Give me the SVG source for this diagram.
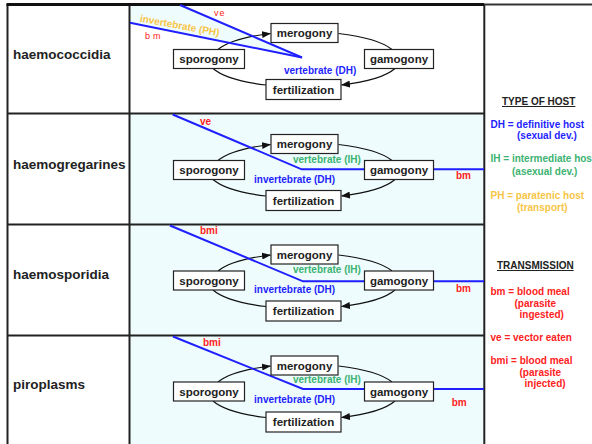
<svg xmlns="http://www.w3.org/2000/svg" width="592" height="444" viewBox="0 0 592 444">
<defs>
<marker id="ah" markerWidth="9" markerHeight="7" refX="8.5" refY="3.5" orient="auto" markerUnits="userSpaceOnUse"><path d="M0,0 L9,3.5 L0,7 z" fill="#111"/></marker>
<style>
.node rect{fill:#fff;stroke:#222;stroke-width:1.2}
.node text{font-family:"Liberation Sans",Arial,sans-serif;font-weight:bold;font-size:11.5px;fill:#222;text-anchor:middle}
.arc{fill:none;stroke:#111;stroke-width:1.2}
.host{fill:none;stroke:#1f1fff;stroke-width:2}
.lab{font-family:"Liberation Sans",Arial,sans-serif;font-weight:bold;font-size:10px}
.grp{font-family:"Liberation Sans",Arial,sans-serif;font-weight:bold;font-size:13.5px;fill:#222}
.red{fill:#ff2222}.blue{fill:#1f1fff}.green{fill:#3cb371}.gold{fill:#f7c545}.blk{fill:#222}
.grid{stroke:#222;stroke-width:2;fill:none}
</style>
</defs>
<rect x="0" y="0" width="592" height="444" fill="#fff"/>
<!-- backgrounds -->
<rect x="130" y="113.5" width="354" height="331" fill="#eefcfd"/>
<polygon points="130,5 180,5 302,57.5 130,22.7" fill="#eefcfd"/>
<!-- grid -->
<g id="grid">
<line class="grid" x1="7.5" y1="4" x2="7.5" y2="444"/>
<line class="grid" x1="129.5" y1="4" x2="129.5" y2="444"/>
<line class="grid" x1="484.3" y1="4" x2="484.3" y2="444"/>
<line x1="6.5" y1="4.5" x2="484.3" y2="4.5" stroke="#111" stroke-width="3"/>
<line x1="484.3" y1="4.5" x2="592" y2="4.5" stroke="#333" stroke-width="2"/>
<line class="grid" x1="7" y1="113.5" x2="484.3" y2="113.5"/>
<line class="grid" x1="7" y1="224.5" x2="484.3" y2="224.5"/>
<line class="grid" x1="7" y1="335.5" x2="484.3" y2="335.5"/>
</g>
<!-- group labels -->
<g id="groups">
<text class="grp" x="13" y="59">haemococcidia</text>
<text class="grp" x="13" y="169">haemogregarines</text>
<text class="grp" x="13" y="279">haemosporidia</text>
<text class="grp" x="13" y="389">piroplasms</text>
</g>
<!-- connectors -->
<g id="connectors">
<g id="cycle1">
<path class="arc" d="M218 49.5 A95 27 0 0 1 270.5 33.5" marker-end="url(#ah)"/>
<path class="arc" d="M338.5 33.5 A95 27 0 0 1 392 49.5"/>
<path class="arc" d="M395 68.5 A95 27 0 0 1 341.5 85" marker-end="url(#ah)"/>
<path class="arc" d="M266 85 A95 27 0 0 1 213 68.5"/>
</g>
<g id="cycle2" transform="translate(0,111)">
<path class="arc" d="M218 49.5 A95 27 0 0 1 270.5 33.5" marker-end="url(#ah)"/>
<path class="arc" d="M338.5 33.5 A95 27 0 0 1 392 49.5"/>
<path class="arc" d="M395 68.5 A95 27 0 0 1 341.5 85" marker-end="url(#ah)"/>
<path class="arc" d="M266 85 A95 27 0 0 1 213 68.5"/>
</g>
<g id="cycle3" transform="translate(0,221.5)">
<path class="arc" d="M218 49.5 A95 27 0 0 1 270.5 33.5" marker-end="url(#ah)"/>
<path class="arc" d="M338.5 33.5 A95 27 0 0 1 392 49.5"/>
<path class="arc" d="M395 68.5 A95 27 0 0 1 341.5 85" marker-end="url(#ah)"/>
<path class="arc" d="M266 85 A95 27 0 0 1 213 68.5"/>
</g>
<g id="cycle4" transform="translate(0,332.5)">
<path class="arc" d="M218 49.5 A95 27 0 0 1 270.5 33.5" marker-end="url(#ah)"/>
<path class="arc" d="M338.5 33.5 A95 27 0 0 1 392 49.5"/>
<path class="arc" d="M395 68.5 A95 27 0 0 1 341.5 85" marker-end="url(#ah)"/>
<path class="arc" d="M266 85 A95 27 0 0 1 213 68.5"/>
</g>
<line class="host" x1="180" y1="5" x2="302" y2="57.5"/>
<line class="host" x1="130" y1="22.7" x2="302" y2="57.5"/>
<polyline class="host" points="172.7,114.5 301.7,169.3 484,169.3"/>
<polyline class="host" points="170,225.5 303,281.3 484,281.3"/>
<polyline class="host" points="173,336.5 303,389 484,389"/>
</g>
<!-- nodes -->
<g id="panel1">
<g id="merogony1" class="node"><rect x="271" y="23.5" width="67" height="19"/><text x="304.5" y="37.3">merogony</text></g>
<g id="sporogony1" class="node"><rect x="173.5" y="49.5" width="71" height="19"/><text x="209" y="63.3">sporogony</text></g>
<g id="gamogony1" class="node"><rect x="364.5" y="49.5" width="69" height="19"/><text x="399" y="63.3">gamogony</text></g>
<g id="fertilization1" class="node"><rect x="266" y="79.5" width="75" height="20"/><text x="303.5" y="93.8">fertilization</text></g>
</g>
<g id="panel2" transform="translate(0,111)">
<g id="merogony2" class="node"><rect x="271" y="23.5" width="67" height="19"/><text x="304.5" y="37.3">merogony</text></g>
<g id="sporogony2" class="node"><rect x="173.5" y="49.5" width="71" height="19"/><text x="209" y="63.3">sporogony</text></g>
<g id="gamogony2" class="node"><rect x="364.5" y="49.5" width="69" height="19"/><text x="399" y="63.3">gamogony</text></g>
<g id="fertilization2" class="node"><rect x="266" y="79.5" width="75" height="20"/><text x="303.5" y="93.8">fertilization</text></g>
</g>
<g id="panel3" transform="translate(0,221.5)">
<g id="merogony3" class="node"><rect x="271" y="23.5" width="67" height="19"/><text x="304.5" y="37.3">merogony</text></g>
<g id="sporogony3" class="node"><rect x="173.5" y="49.5" width="71" height="19"/><text x="209" y="63.3">sporogony</text></g>
<g id="gamogony3" class="node"><rect x="364.5" y="49.5" width="69" height="19"/><text x="399" y="63.3">gamogony</text></g>
<g id="fertilization3" class="node"><rect x="266" y="79.5" width="75" height="20"/><text x="303.5" y="93.8">fertilization</text></g>
</g>
<g id="panel4" transform="translate(0,332.5)">
<g id="merogony4" class="node"><rect x="271" y="23.5" width="67" height="19"/><text x="304.5" y="37.3">merogony</text></g>
<g id="sporogony4" class="node"><rect x="173.5" y="49.5" width="71" height="19"/><text x="209" y="63.3">sporogony</text></g>
<g id="gamogony4" class="node"><rect x="364.5" y="49.5" width="69" height="19"/><text x="399" y="63.3">gamogony</text></g>
<g id="fertilization4" class="node"><rect x="266" y="79.5" width="75" height="20"/><text x="303.5" y="93.8">fertilization</text></g>
</g>
<!-- connector labels -->
<g id="labels">
<text class="lab red" x="214" y="15.5" style="font-weight:normal;font-size:9px;letter-spacing:1px">ve</text>
<text class="lab gold" x="139.5" y="21.5" transform="rotate(10.5 139.5 21.5)">invertebrate (PH)</text>
<text class="lab red" x="145" y="38.5" style="font-weight:normal;font-size:9px;letter-spacing:3px">bm</text>
<text class="lab blue" x="284" y="73.5">vertebrate (DH)</text>

<text class="lab red" x="200" y="125">ve</text>
<text class="lab green" x="293" y="162.5">vertebrate (IH)</text>
<text class="lab blue" x="254" y="183">invertebrate (DH)</text>
<text class="lab red" x="456" y="178.5">bm</text>

<text class="lab red" x="200" y="234">bmi</text>
<text class="lab green" x="293" y="272.5">vertebrate (IH)</text>
<text class="lab blue" x="254" y="293">invertebrate (DH)</text>
<text class="lab red" x="456" y="292">bm</text>

<text class="lab red" x="203" y="345.5">bmi</text>
<text class="lab green" x="293" y="383">vertebrate (IH)</text>
<text class="lab blue" x="254" y="403">invertebrate (DH)</text>
<text class="lab red" x="451.7" y="405.5">bm</text>
</g>
<!-- legend -->
<g id="legend">
<text class="lab blk" x="502" y="105" text-decoration="underline">TYPE OF HOST</text>
<text class="lab blue" x="490.5" y="128">DH = definitive host</text>
<text class="lab blue" x="517" y="138.5">(sexual dev.)</text>
<text class="lab green" x="490.5" y="162">IH = intermediate host</text>
<text class="lab green" x="512" y="174.5">(asexual dev.)</text>
<text class="lab gold" x="490.5" y="199">PH = paratenic host</text>
<text class="lab gold" x="517" y="211">(transport)</text>
<text class="lab blk" x="497" y="269" text-decoration="underline">TRANSMISSION</text>
<text class="lab red" x="490.5" y="295">bm = blood meal</text>
<text class="lab red" x="514.5" y="306.5">(parasite</text>
<text class="lab red" x="519.5" y="317.5">ingested)</text>
<text class="lab red" x="490.5" y="340.5">ve = vector eaten</text>
<text class="lab red" x="490.5" y="364">bmi = blood meal</text>
<text class="lab red" x="519.5" y="376">(parasite</text>
<text class="lab red" x="524.5" y="387">injected)</text>
</g>
</svg>
